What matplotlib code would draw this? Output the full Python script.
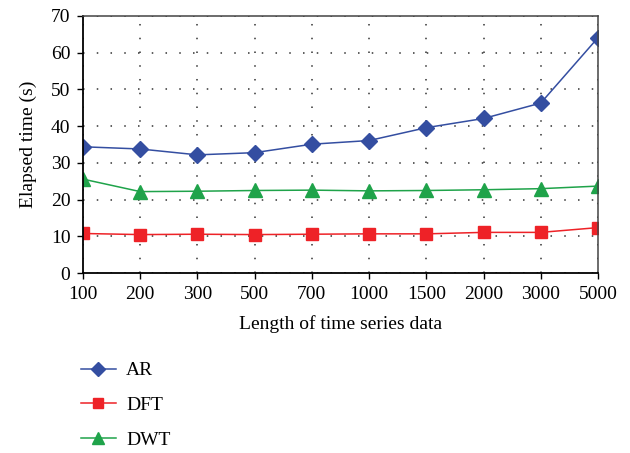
import matplotlib
matplotlib.use("Agg")
import matplotlib.pyplot as plt
from matplotlib import rcParams
import numpy as np

### style ####################################################################
config = {"font.family": ['Liberation Serif', 'DejaVu Serif'],
          "font.size": 14}
rcParams.update(config)

### data #####################################################################
lengths = ["100", "200", "300", "500", "700", "1000", "1500", "2000", "3000", "5000"]
ar = [34.4, 33.8, 32.2, 32.8, 35.1, 36.1, 39.6, 42.1, 46.3, 64.1]
dft = [10.8, 10.5, 10.6, 10.5, 10.6, 10.7, 10.7, 11.1, 11.1, 12.4]
dwt = [25.6, 22.2, 22.3, 22.5, 22.6, 22.4, 22.5, 22.7, 23.0, 23.7]
yticks = [0, 10, 20, 30, 40, 50, 60, 70]

c_ar = '#344ea1'
c_dft = '#ee2227'
c_dwt = '#1fa34a'

### plot #####################################################################
fig = plt.figure(figsize=(6.3, 4.53), dpi=100)
ax = fig.add_axes([0.1317, 0.397, 0.8175, 0.5677])
xpos = np.arange(len(lengths))

ax.plot(xpos, ar, color=c_ar, lw=1.1, marker='D', ms=8.5, label="AR")
ax.plot(xpos, dft, color=c_dft, lw=1.1, marker='s', ms=9, label="DFT")
ax.plot(xpos, dwt, color=c_dwt, lw=1.1, marker='^', ms=9.5, label="DWT")

ax.set_xlim(0, len(lengths) - 1)
ax.set_ylim(0, 70)
ax.set_xticks(xpos)
ax.set_xticklabels(lengths)
ax.set_yticks(yticks)
ax.tick_params(direction='out', length=4, width=1, pad=5)
ax.grid(True, color='#333333', linestyle=(0, (1, 8)), linewidth=1.1)
for s in ['left', 'bottom']:
    ax.spines[s].set_linewidth(1.3)
for s in ['top', 'right']:
    ax.spines[s].set_linewidth(1.1)
    ax.spines[s].set_color('#444444')

ax.set_xlabel("Length of time series data", labelpad=9)
ax.set_ylabel("Elapsed time (s)", labelpad=10)

h, l = ax.get_legend_handles_labels()
fig.legend(h, l, loc='upper left', bbox_to_anchor=(0.1, 0.24),
           frameon=False, handlelength=1.8, labelspacing=0.88,
           handletextpad=0.55, markerscale=0.85)

plt.savefig("out.png", dpi=100)
